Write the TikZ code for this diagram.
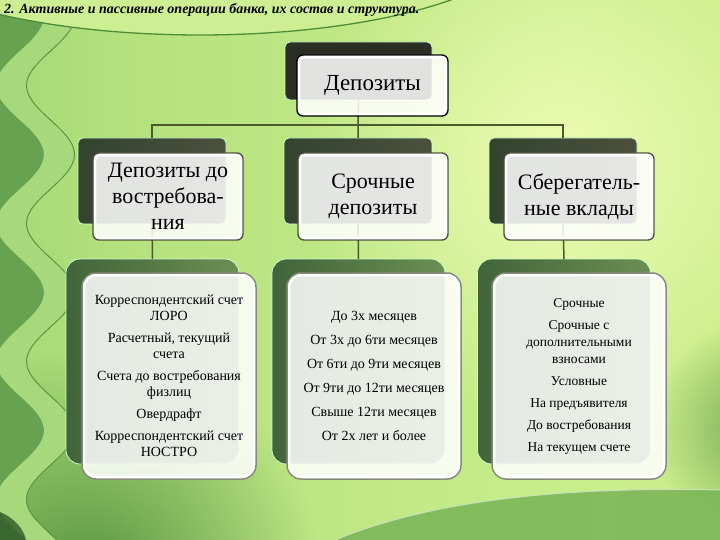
\documentclass[tikz,border=0pt]{standalone}
\usepackage{fontspec}
\setmainfont{Liberation Serif}
\usetikzlibrary{fadings}
\definecolor{bgA}{HTML}{6FAE58}
\definecolor{bgB}{HTML}{8CCB6A}
\definecolor{bgC}{HTML}{B6E27E}
\definecolor{bgD}{HTML}{C8EE8C}
\definecolor{bgE}{HTML}{D6EF86}
\definecolor{glowc}{HTML}{EEFCB4}
\definecolor{wavedk}{HTML}{66A250}
\definecolor{waveband}{HTML}{A8D87C}
\definecolor{waveline}{HTML}{5A9444}
\definecolor{titlefill}{HTML}{CDEE92}
\definecolor{titleline}{HTML}{4D8C38}
\definecolor{bottomfill}{HTML}{78B456}
\definecolor{shadegreen}{HTML}{4F8C3C}
\definecolor{cornerdk}{HTML}{2F5A28}
\definecolor{topdk}{HTML}{2B2E25}
\definecolor{middkL}{HTML}{33442E}
\definecolor{middkR}{HTML}{4B503D}
\definecolor{botdkL}{HTML}{41643A}
\definecolor{botdkR}{HTML}{6B8F52}
\definecolor{midline}{HTML}{4A5038}
\definecolor{botline}{HTML}{858A7A}
\definecolor{connc}{HTML}{4A5A2A}
\pgfdeclarehorizontalshading{bgshade}{100bp}{color(0bp)=(bgA); color(10bp)=(bgB); color(35bp)=(bgC); color(65bp)=(bgD); color(100bp)=(bgE)}
\tikzfading[name=glowfade, inner color=transparent!0, outer color=transparent!100]
\tikzset{
  shadowbox/.style={rectangle, rounded corners=5pt, draw=white!80!green, line width=0.8pt, inner sep=0pt, outer sep=0pt},
  topsize/.style={minimum width=147pt, minimum height=58pt},
  midsize/.style={minimum width=148pt, minimum height=86pt},
  botsize/.style={minimum width=173pt, minimum height=205pt, rounded corners=14pt},
  frontbox/.style={rectangle, rounded corners=6pt, fill=white, fill opacity=0.86, text opacity=1, line width=1.3pt, inner sep=0pt, outer sep=0pt, align=center, text=black},
  frontmid/.style={frontbox, draw=midline, minimum width=150pt, minimum height=87pt, font=\fontsize{22}{26}\selectfont},
  frontbot/.style={frontbox, draw=botline, line width=1.5pt, minimum width=174pt, minimum height=206pt, rounded corners=14pt},
  ring/.style={draw=white, line width=2.4pt},
  conn/.style={draw=connc, line width=1.5pt},
}
\begin{document}
\begin{tikzpicture}[x=1pt,y=-1pt]
\useasboundingbox (0,0) rectangle (720,540);
\begin{scope}
\clip (0,0) rectangle (720,540);
% background
\shade[shading=bgshade] (0,0) rectangle (720,540);
\fill[glowc, path fading=glowfade] (560,160) circle (260);
% darker lower left and right edge
\fill[shadegreen, path fading=glowfade, opacity=0.9] (90,580) circle (230);
\fill[shadegreen, path fading=glowfade, opacity=0.7] (760,430) circle (110);
% left waves
\fill[wavedk] (0,0) -- plot[domain=0:540, samples=120, variable=\t] ({20+24*sin(2.6087*(\t-120))}, \t) -- (0,540) -- cycle;
\fill[waveband] plot[domain=0:540, samples=120, variable=\t] ({20+24*sin(2.6087*(\t-120))}, \t)
   -- plot[domain=540:0, samples=120, variable=\t] ({50+24*sin(2.6087*(\t-120))}, \t) -- cycle;
\draw[waveline, line width=1pt] plot[domain=0:540, samples=120, variable=\t] ({50.5+24*sin(2.6087*(\t-120))}, \t);
% bottom region
\fill[bottomfill, opacity=0.85] (335,540) .. controls (420,505) and (540,486) .. (720,490) -- (720,540) -- cycle;
\draw[white!60!bottomfill, line width=1pt] (335,540) .. controls (420,505) and (540,486) .. (720,490);
\fill[cornerdk, opacity=0.8] (0,512) .. controls (15,518) and (24,530) .. (26,540) -- (0,540) -- cycle;
% title arc
\fill[titlefill] (200,-65) ellipse [x radius=330, y radius=100];
\draw[titleline, line width=1.3pt] (200,-65) ellipse [x radius=330, y radius=100];
\end{scope}
% title
\node[anchor=base west, inner sep=0pt, font=\fontsize{14}{16}\selectfont\bfseries\itshape] (title) at (4,14) {2. Активные и пассивные операции банка, их состав и структура.};
% shadow boxes
\node[shadowbox, topsize, fill=topdk] (td) at (358.5,71) {};
\node[shadowbox, midsize, left color=middkL, right color=middkR] (m1d) at (152,181) {};
\node[shadowbox, midsize, left color=middkL, right color=middkR] (m2d) at (358,181) {};
\node[shadowbox, midsize, left color=middkL, right color=middkR] (m3d) at (563,181) {};
\node[shadowbox, botsize, left color=botdkL, right color=botdkR] (b1d) at (152.5,361.5) {};
\node[shadowbox, botsize, left color=botdkL, right color=botdkR] (b2d) at (358.5,361.5) {};
\node[shadowbox, botsize, left color=botdkL, right color=botdkR] (b3d) at (564,361.5) {};
% connectors
\coordinate (bus) at (358,125);
\draw[conn] (td.south) -- (bus) -- (m2d.north);
\draw[conn] (m1d.north) |- (bus) -| (m3d.north);
\draw[conn] (m1d.south) -- (b1d.north);
\draw[conn] (m2d.south) -- (b2d.north);
\draw[conn] (m3d.south) -- (b3d.north);
% front boxes
\node[frontbox, draw=black, minimum width=151pt, minimum height=61pt, font=\fontsize{23}{26}\selectfont] (t) at (372.5,85.5) {Депозиты};
\node[frontmid] (m1) at (168,196.5) {Депозиты до\\востребова-\\ния};
\node[frontmid] (m2) at (373,196.5) {Срочные\\депозиты};
\node[frontmid] (m3) at (579,196.5) {Сберегатель-\\ные вклады};
\node[frontbot, font=\fontsize{14}{16}\selectfont] (b1) at (169,376) {Корреспондентский счет\\ЛОРО\\[6pt]Расчетный, текущий\\счета\\[6pt]Счета до востребования\\физлиц\\[6pt]Овердрафт\\[6pt]Корреспондентский счет\\НОСТРО};
\node[frontbot, font=\fontsize{14}{24}\selectfont] (b2) at (374,376) {До 3х месяцев\\От 3х до  6ти месяцев\\От 6ти до  9ти месяцев\\От 9ти до 12ти месяцев\\Свыше 12ти месяцев\\От 2х лет и более};
\node[frontbot, font=\fontsize{13.5}{17}\selectfont] (b3) at (579,376) {Срочные\\[5pt]Срочные с\\дополнительными\\взносами\\[5pt]Условные\\[5pt]На предъявителя\\[5pt]До востребования\\[5pt]На текущем счете};
% inner white rings
\foreach \n/\r in {t/4.5pt, m1/4.5pt, m2/4.5pt, m3/4.5pt, b1/12pt, b2/12pt, b3/12pt}
  \draw[ring, rounded corners=\r] ([xshift=2.2pt,yshift=-2.2pt]\n.north west) rectangle ([xshift=-2.2pt,yshift=2.2pt]\n.south east);
\end{tikzpicture}
\end{document}
